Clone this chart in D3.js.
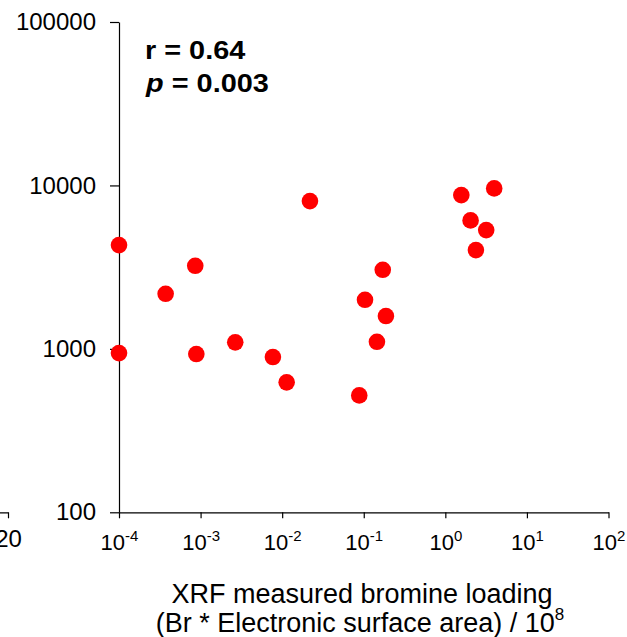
<!DOCTYPE html>
<html>
<head>
<meta charset="utf-8">
<script src="https://cdn.jsdelivr.net/npm/d3@7"></script>
<style>
  html, body { margin: 0; padding: 0; background: #fff; }
  svg { display: block; font-family: "Liberation Sans", Arial, sans-serif; }
</style>
</head>
<body>
<svg id="chart" width="627" height="637"></svg>
<script>
// Bromine loading (x) versus the measured response (y), one point per sample
const bromineLoading = [1e-4, 1e-4, 3.73e-4, 8.6e-4, 8.87e-4, 2.66e-3, 7.7e-3, 0.01135, 0.0219,
  0.0881, 0.1036, 0.145, 0.171, 0.187, 1.57, 2.04, 2.37, 3.17, 3.97];
const responseValues = [4315, 942, 2173, 3223, 930, 1096, 891, 624, 8017,
  519, 1997, 1105, 3048, 1588, 8725, 6109, 4020, 5330, 9590];

const xTickExponents = [-4, -3, -2, -1, 0, 1, 2];
const yTickValues = [100, 1000, 10000, 100000];
const neighbourTickValues = [20];

const xTitleLines = ["XRF measured bromine loading", "(Br * Electronic surface area) / 10"];
const xTitleSuperscript = "8";
const statR = "r = 0.64";
const statP = "= 0.003";

const FONT = "Liberation Sans, Arial, sans-serif";
const svg = d3.select("#chart");

const x = d3.scaleLog().domain([1e-4, 1e2]).range([119, 608.5]);
const y = d3.scaleLog().domain([100, 1e5]).range([512.3, 22]);
const baseY = y(100);

// y axis
const yAxis = svg.append("g")
  .attr("transform", `translate(${x(1e-4)},0)`)
  .call(d3.axisLeft(y).tickValues(yTickValues).tickFormat(d3.format("d"))
    .tickSize(9).tickSizeOuter(0).tickPadding(14));
yAxis.selectAll("text").attr("font-size", 24).attr("fill", "#000").attr("font-family", FONT);

// x axis with power-of-ten labels
const xAxis = svg.append("g")
  .attr("transform", `translate(0,${baseY})`)
  .call(d3.axisBottom(x).tickValues(xTickExponents.map(e => Math.pow(10, e)))
    .tickFormat("").tickSize(6).tickSizeOuter(0));
xAxis.selectAll(".tick").append("text")
  .attr("y", 38)
  .attr("text-anchor", "middle")
  .attr("fill", "#000")
  .attr("font-size", 22)
  .attr("font-family", FONT)
  .each(function(d) {
    const t = d3.select(this);
    t.append("tspan").text("10");
    t.append("tspan").attr("font-size", 15).attr("dy", -9)
      .text(String(Math.round(Math.log10(d))));
  });

// end of the neighbouring panel's axis at the left edge
const xn = d3.scaleLinear().domain([0, 20]).range([-300, 8]);
const nAxis = svg.append("g")
  .attr("transform", `translate(0,${baseY})`)
  .call(d3.axisBottom(xn).tickValues(neighbourTickValues).tickSize(6).tickSizeOuter(0).tickPadding(12));
nAxis.selectAll("text").attr("font-size", 24).attr("fill", "#000").attr("font-family", FONT);

svg.selectAll(".domain, .tick line").attr("stroke", "#000").attr("stroke-width", 1.2);

// points
svg.append("g").selectAll("circle")
  .data(bromineLoading.map((v, i) => [v, responseValues[i]]))
  .join("circle")
  .attr("cx", d => x(d[0]))
  .attr("cy", d => y(d[1]))
  .attr("r", 8.3)
  .attr("fill", "#ff0000");

// correlation statistics, set in a slightly widened bold face
const stats = svg.append("g")
  .attr("transform", "translate(145,0) scale(1.11,1)")
  .attr("font-weight", "bold").attr("font-size", 26).attr("fill", "#000");
stats.append("text").attr("x", 0).attr("y", 59).text(statR);
const pLine = stats.append("text").attr("x", 1).attr("y", 92);
pLine.append("tspan").attr("font-style", "italic").text("p");
pLine.append("tspan").text(" " + statP);

// x axis title
const title = svg.append("g").attr("font-size", 27).attr("fill", "#000").attr("text-anchor", "middle");
title.append("text").attr("x", 362).attr("y", 603).text(xTitleLines[0]);
const t2 = title.append("text").attr("x", 360).attr("y", 632);
t2.append("tspan").text(xTitleLines[1]);
t2.append("tspan").attr("font-size", 17).attr("dy", -12).text(xTitleSuperscript);
</script>
</body>
</html>
